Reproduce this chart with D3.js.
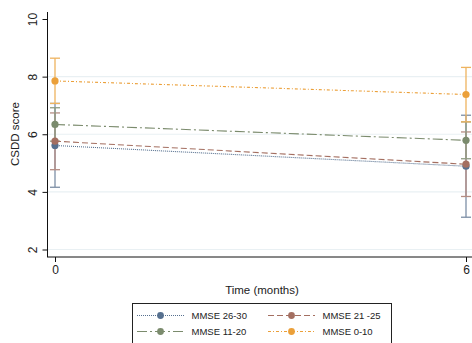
<!DOCTYPE html>
<html>
<head>
<meta charset="utf-8">
<script src="https://cdn.jsdelivr.net/npm/d3@7"></script>
<style>
  html, body { margin: 0; padding: 0; background: #fff; }
  svg { display: block; font-family: "Liberation Sans", Arial, sans-serif; }
</style>
</head>
<body>
<svg id="chart" width="472" height="343"></svg>
<script>
// Follow-up times (months) and CSDD score means with 95% CIs per MMSE band
const times = [0, 6];
const groups = ["MMSE 26-30", "MMSE 21 -25", "MMSE 11-20", "MMSE 0-10"];
const meanMmse2630 = [5.61, 4.89];
const lowMmse2630  = [4.16, 3.12];
const highMmse2630 = [7.07, 6.66];
const meanMmse2125 = [5.76, 4.96];
const lowMmse2125  = [4.77, 3.84];
const highMmse2125 = [6.74, 6.08];
const meanMmse1120 = [6.34, 5.79];
const lowMmse1120  = [5.76, 5.15];
const highMmse1120 = [6.92, 6.43];
const meanMmse010  = [7.85, 7.38];
const lowMmse010   = [7.07, 6.43];
const highMmse010  = [8.64, 8.32];
const yTicks = [2, 4, 6, 8, 10];
const xTicks = [0, 6];

const series = [
  { name: groups[0], mean: meanMmse2630, lo: lowMmse2630, hi: highMmse2630,
    color: "#56708f", ci: "#7d8fa6", dash: "1,1" },
  { name: groups[1], mean: meanMmse2125, lo: lowMmse2125, hi: highMmse2125,
    color: "#a46f61", ci: "#b58d83", dash: "6,3" },
  { name: groups[2], mean: meanMmse1120, lo: lowMmse1120, hi: highMmse1120,
    color: "#7b8b6d", ci: "#8f9c83", dash: "10,3,2,3" },
  { name: groups[3], mean: meanMmse010, lo: lowMmse010, hi: highMmse010,
    color: "#eba03a", ci: "#eeb35f", dash: "3,2,1,2" }
];

const svg = d3.select("#chart");
const x = d3.scaleLinear().domain([0, 6]).range([55, 466]);
const y = d3.scaleLinear().domain([2, 10]).range([249.5, 19]);

// horizontal grid
svg.append("g").selectAll("line")
  .data(yTicks.filter(d => d < 10))
  .join("line")
  .attr("x1", 48).attr("x2", 472)
  .attr("y1", d => y(d)).attr("y2", d => y(d))
  .attr("stroke", "#e9f0f3").attr("stroke-width", 1.2);

// axes
const yAxis = d3.axisLeft(y).tickValues(yTicks).tickFormat(d3.format("d"))
  .tickSize(5).tickPadding(3);
const gy = svg.append("g").attr("transform", "translate(47.5,0)").call(yAxis);
gy.select(".domain").attr("d", "M0,12V257");
gy.selectAll(".tick text")
  .attr("transform", "rotate(-90)")
  .attr("x", 0).attr("y", -11)
  .attr("dy", "0")
  .attr("text-anchor", "middle")
  .style("font-size", "12px").attr("fill", "#222");

const xAxis = d3.axisBottom(x).tickValues(xTicks).tickFormat(d3.format("d"))
  .tickSize(5).tickPadding(3);
const gx = svg.append("g").attr("transform", "translate(0,257)").call(xAxis);
gx.select(".domain").attr("d", "M47,0H472");
gx.selectAll(".tick text").style("font-size", "12px").attr("fill", "#222");
svg.selectAll(".domain").attr("stroke", "#111");
svg.selectAll(".tick line").attr("stroke", "#111");

// axis titles
svg.append("text")
  .attr("transform", "translate(19,134) rotate(-90)")
  .attr("text-anchor", "middle")
  .style("font-size", "11.5px").attr("fill", "#222")
  .text("CSDD score");
svg.append("text")
  .attr("x", 262).attr("y", 294)
  .attr("text-anchor", "middle")
  .style("font-size", "11.5px").attr("fill", "#222")
  .text("Time (months)");

// confidence intervals
const capW = 5;
series.forEach(s => {
  const g = svg.append("g");
  times.forEach((t, i) => {
    g.append("line")
      .attr("x1", x(t)).attr("x2", x(t))
      .attr("y1", y(s.lo[i])).attr("y2", y(s.hi[i]))
      .attr("stroke", s.ci).attr("stroke-width", 1.3);
    [s.lo[i], s.hi[i]].forEach(v => {
      g.append("line")
        .attr("x1", x(t) - capW).attr("x2", x(t) + capW)
        .attr("y1", y(v)).attr("y2", y(v))
        .attr("stroke", s.ci).attr("stroke-width", 1.3);
    });
  });
});

// mean trajectories
const line = d3.line().x((d, i) => x(times[i])).y(d => y(d));
series.forEach(s => {
  svg.append("path")
    .attr("d", line(s.mean))
    .attr("fill", "none")
    .attr("stroke", s.color).attr("stroke-width", 1.1)
    .attr("stroke-dasharray", s.dash);
  svg.append("g").selectAll("circle")
    .data(s.mean)
    .join("circle")
    .attr("cx", (d, i) => x(times[i])).attr("cy", d => y(d))
    .attr("r", 3.6).attr("fill", s.color);
});

// legend
const lg = svg.append("g");
lg.append("rect")
  .attr("x", 132.5).attr("y", 303.5).attr("width", 259).attr("height", 45)
  .attr("fill", "#fff").attr("stroke", "#222").attr("stroke-width", 1);
series.forEach((s, i) => {
  const col = i % 2, row = Math.floor(i / 2);
  const x0 = col === 0 ? 137 : 268;
  const yy = row === 0 ? 315.5 : 331.5;
  lg.append("line")
    .attr("x1", x0).attr("x2", x0 + 47).attr("y1", yy).attr("y2", yy)
    .attr("stroke", s.color).attr("stroke-width", 1.1)
    .attr("stroke-dasharray", s.dash);
  lg.append("circle").attr("cx", x0 + 23.5).attr("cy", yy).attr("r", 3.4)
    .attr("fill", s.color);
  lg.append("text")
    .attr("x", x0 + 54.5).attr("y", yy + 3.3)
    .style("font-size", "9.5px").attr("fill", "#222")
    .text(s.name);
});
</script>
</body>
</html>
